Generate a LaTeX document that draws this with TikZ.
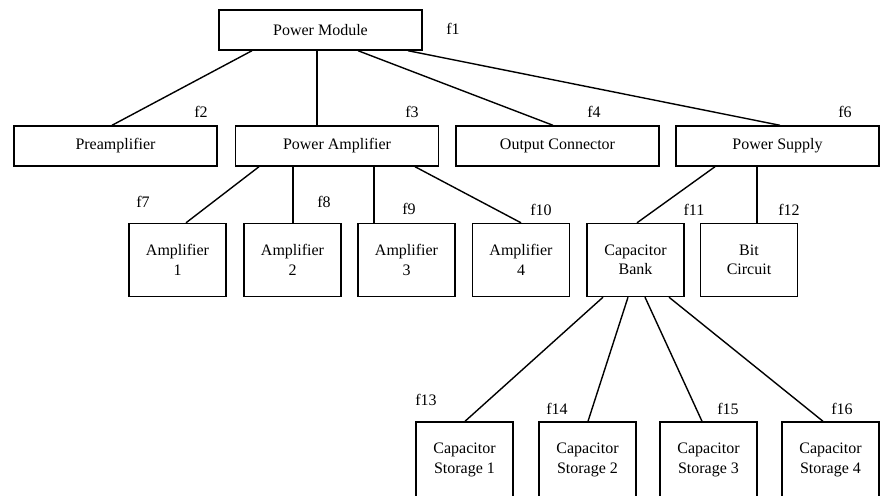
\documentclass[tikz,border=0pt]{standalone}
\usepackage{fontspec}
\setmainfont{Liberation Serif}
\begin{document}
\begin{tikzpicture}[x=1pt,y=-1pt,
  every node/.style={font=\fontsize{16}{19.5}\selectfont},
  wide/.style={draw,line width=1.4pt,minimum width=203pt,minimum height=40pt,inner sep=0pt},
  small/.style={draw,line width=1.4pt,minimum width=97pt,minimum height=73pt,inner sep=0pt,align=center},
  link/.style={line width=1.4pt},
  lab/.style={inner sep=0pt}]
\useasboundingbox (0,0) rectangle (880,495);
\clip (0,0) rectangle (880,495);
% top
\node[wide] (pm) at (320.5,30) {Power Module};
\node[wide] (pre) at (115.5,146) {Preamplifier};
\node[wide] (pa) at (337,146) {Power Amplifier};
\node[wide] (oc) at (557.5,146) {Output Connector};
\node[wide] (ps) at (777.5,146) {Power Supply};
% amplifiers
\node[small] (a1) at (177.5,260) {Amplifier\\1};
\node[small] (a2) at (292.5,260) {Amplifier\\2};
\node[small] (a3) at (406.5,260) {Amplifier\\3};
\node[small] (a4) at (521,260) {Amplifier\\4};
\node[small] (cb) at (635.5,260) {Capacitor\\Bank};
\node[small] (bit) at (749,260) {Bit\\Circuit};
% storage
\node[small,minimum height=76pt] (cs1) at (464.5,460) {Capacitor\\Storage 1};
\node[small,minimum height=76pt] (cs2) at (587.5,460) {Capacitor\\Storage 2};
\node[small,minimum height=76pt] (cs3) at (708.5,460) {Capacitor\\Storage 3};
\node[small,minimum height=76pt] (cs4) at (830.5,460) {Capacitor\\Storage 4};
% connectors
\draw[link] ([xshift=-68.5pt]pm.south) -- ([xshift=-3.5pt]pre.north);
\draw[link] ([xshift=-3.5pt]pm.south) -- ([xshift=-20pt]pa.north);
\draw[link] ([xshift=37.5pt]pm.south) -- ([xshift=-4.5pt]oc.north);
\draw[link] ([xshift=87.5pt]pm.south) -- ([xshift=2.5pt]ps.north);
\draw[link] ([xshift=-78pt]pa.south) -- ([xshift=8.5pt]a1.north);
\draw[link] ([xshift=-44pt]pa.south) -- ([xshift=0.5pt]a2.north);
\draw[link] ([xshift=37pt]pa.south) -- ([xshift=-32.5pt]a3.north);
\draw[link] ([xshift=78pt]pa.south) -- (a4.north);
\draw[link] ([xshift=-62.5pt]ps.south) -- ([xshift=1.5pt]cb.north);
\draw[link] ([xshift=-20.5pt]ps.south) -- ([xshift=8pt]bit.north);
\draw[link] ([xshift=-32.5pt]cb.south) -- ([xshift=0.5pt]cs1.north);
\draw[link] ([xshift=-7.5pt]cb.south) -- ([xshift=0.5pt]cs2.north);
\draw[link] ([xshift=9.5pt]cb.south) -- ([xshift=-6.5pt]cs3.north);
\draw[link] ([xshift=33.5pt]cb.south) -- ([xshift=-7.5pt]cs4.north);
% labels
\node[lab] (f1) at (453,29) {f1};
\node[lab] (f2) at (201,112) {f2};
\node[lab] (f3) at (412,112) {f3};
\node[lab] (f4) at (594,112) {f4};
\node[lab] (f6) at (845,112) {f6};
\node[lab] (f7) at (143,202) {f7};
\node[lab] (f8) at (324,202) {f8};
\node[lab] (f9) at (409,209) {f9};
\node[lab] (f10) at (541,210) {f10};
\node[lab] (f11) at (694,210) {f11};
\node[lab] (f12) at (789,210) {f12};
\node[lab] (f13) at (426,400) {f13};
\node[lab] (f14) at (557,409) {f14};
\node[lab] (f15) at (728,409) {f15};
\node[lab] (f16) at (842,409) {f16};
\end{tikzpicture}
\end{document}
